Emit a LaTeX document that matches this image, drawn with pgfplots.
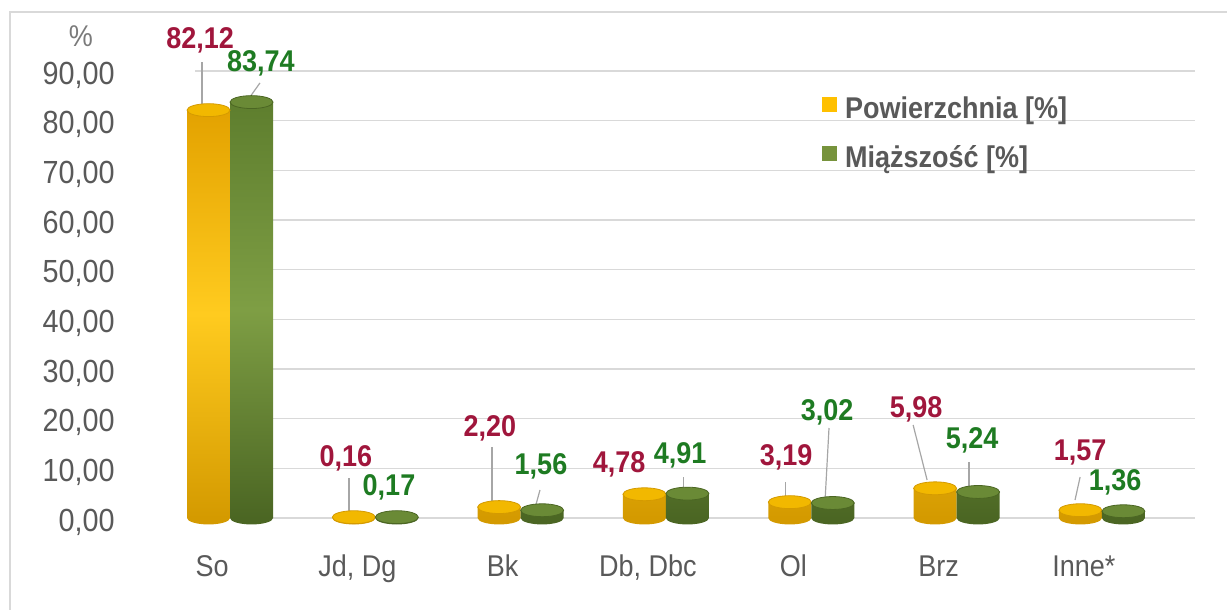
\documentclass[border=0pt]{standalone}
\usepackage{fontspec}
\setmainfont{Liberation Sans}[FakeStretch=0.9]
\usepackage{pgfplots}
\usepackage{pgfplotstable}
\pgfplotsset{compat=1.18}

\definecolor{tickgray}{HTML}{595959}
\definecolor{gridgray}{HTML}{D9D9D9}
\definecolor{leadgray}{HTML}{A6A6A6}
\definecolor{lblred}{HTML}{A0163C}
\definecolor{lblgreen}{HTML}{1E7B22}
\definecolor{yl}{HTML}{E3A200}
\definecolor{ym}{HTML}{FFCB1F}
\definecolor{yr}{HTML}{D49A00}
\definecolor{ytop}{HTML}{F2B800}
\definecolor{gl}{HTML}{5E7E2E}
\definecolor{gm}{HTML}{7E9E44}
\definecolor{gr}{HTML}{4B6623}
\definecolor{gtop}{HTML}{6A8A36}
\definecolor{legy}{HTML}{FFC000}
\definecolor{legg}{HTML}{77933C}

\tikzset{
  lab/.style={font=\bfseries\fontsize{15bp}{18bp}\selectfont, inner sep=0pt},
  leader/.style={draw=leadgray, line width=0.6bp},
}

\pgfdeclareplotmark{halfell}{%
  \pgfpathmoveto{\pgfpoint{-\pgfplotmarksize}{0pt}}%
  \pgfpatharc{180}{360}{\pgfplotmarksize and 0.3\pgfplotmarksize}%
  \pgfpathclose
  \pgfusepathqfill
}

\newcommand\legsquare[1]{%
  \pgfpathrectangle{\pgfpoint{0bp}{0bp}}{\pgfpoint{11.5bp}{14bp}}\pgfusepath{use as bounding box}%
  \pgfsetfillcolor{#1}%
  \pgfpathrectangle{\pgfpoint{0bp}{-0.75bp}}{\pgfpoint{7.5bp}{7.5bp}}\pgfusepath{fill}%
}

\pgfplotstableread{
cat pow mia
So 82.12 83.74
JdDg 0.16 0.17
Bk 2.20 1.56
DbDbc 4.78 4.91
Ol 3.19 3.02
Brz 5.98 5.24
Inne 1.57 1.36
}\data

\begin{document}
\begin{tikzpicture}[x=0.5bp,y=0.5bp]
\useasboundingbox (0,0) rectangle (1227,610);
\draw[gridgray, line width=1bp] (10,-5) -- (10,598) -- (1235,598);
\node[font=\fontsize{15bp}{18bp}\selectfont, text=tickgray!80] at (81,574) {\%};
\begin{axis}[
  at={(97.5bp,46bp)}, anchor=south west, scale only axis,
  width=500bp, height=223.5bp,
  xmin=-0.241, xmax=6.641, ymin=0, ymax=90,
  clip=false,
  axis line style={draw=none}, tick style={draw=none}, major tick length=0pt,
  ytick={0,10,...,90}, ymajorgrids, grid style={gridgray, line width=0.75bp},
  yticklabel style={font=\fontsize{16bp}{19bp}\selectfont, text=tickgray, inner sep=0pt, anchor=east, xshift=-40bp, yshift=-2bp,
    /pgf/number format/.cd, fixed, fixed zerofill, precision=2, use comma, assume math mode=true},
  xtick={0,...,6},
  xticklabels={So, {Jd, Dg}, Bk, {Db, Dbc}, Ol, Brz, Inne*},
  xticklabel style={font=\fontsize{15bp}{18bp}\selectfont, text=tickgray, anchor=base, yshift=-29.5bp, xshift=-9bp},
  legend cell align=left,
  legend style={at={(0.627,0.975)}, anchor=north west, draw=none, fill=none, inner sep=0pt, outer sep=0pt,
    row sep=3.5bp, font=\bfseries\fontsize{15bp}{18bp}\selectfont, text=tickgray,
    nodes={inner sep=0pt, text height=11bp, text depth=3bp}},
]
% bottom half-ellipses
\addplot[forget plot, only marks, mark=halfell, mark size=10.75bp, mark options={fill=yr, draw=none}]
  table[x expr=\coordindex-0.148, y expr=0] {\data};
\addplot[forget plot, only marks, mark=halfell, mark size=10.75bp, mark options={fill=gr, draw=none}]
  table[x expr=\coordindex+0.148, y expr=0] {\data};
% bars
\addplot[ybar, bar width=21.5bp, bar shift=-10.75bp, draw=none, top color=yl, bottom color=yr, middle color=ym,
  legend image code/.code={\legsquare{legy}}]
  table[x expr=\coordindex, y=pow] {\data};
\addlegendentry{Powierzchnia [\%]}
\addplot[ybar, bar width=21.5bp, bar shift=10.75bp, draw=none, top color=gl, bottom color=gr, middle color=gm,
  legend image code/.code={\legsquare{legg}}]
  table[x expr=\coordindex, y=mia] {\data};
\addlegendentry{Miąższość [\%]}
% top ellipses
\addplot[forget plot, only marks, mark=*, mark size=10.75bp, mark options={yscale=0.3, fill=ytop, draw=yr, line width=0.4bp}]
  table[x expr=\coordindex-0.148, y=pow] {\data};
\addplot[forget plot, only marks, mark=*, mark size=10.75bp, mark options={yscale=0.3, fill=gtop, draw=gr, line width=0.4bp}]
  table[x expr=\coordindex+0.148, y=mia] {\data};
% leader lines
\draw[leader] (axis cs:-0.193,91.8) -- (axis cs:-0.193,83.1);
\draw[leader] (axis cs:0.206,87.6) -- (axis cs:0.138,84.8);
\draw[leader] (axis cs:0.819,8.05) -- (axis cs:0.819,0.4);
\draw[leader] (axis cs:1.803,14.3) -- (axis cs:1.803,3.2);
\draw[leader] (axis cs:2.133,5.64) -- (axis cs:2.099,2.01);
\draw[leader] (axis cs:3.118,8.25) -- (axis cs:3.118,5.23);
\draw[leader] (axis cs:3.820,7.25) -- (axis cs:3.820,4.23);
\draw[leader] (axis cs:4.122,18.12) -- (axis cs:4.095,3.62);
\draw[leader] (axis cs:4.701,18.72) -- (axis cs:4.797,7.65);
\draw[leader] (axis cs:5.086,11.27) -- (axis cs:5.086,5.64);
\draw[leader] (axis cs:5.850,8.25) -- (axis cs:5.815,3.62);
% value labels
\node[lab, text=lblred]   at (axis cs:-0.206,96.2) {82,12};
\node[lab, text=lblgreen] at (axis cs:0.213,91.6) {83,74};
\node[lab, text=lblred]   at (axis cs:0.798,12.08) {0,16};
\node[lab, text=lblgreen] at (axis cs:1.094,6.24) {0,17};
\node[lab, text=lblred]   at (axis cs:1.789,18.12) {2,20};
\node[lab, text=lblgreen] at (axis cs:2.140,10.47) {1,56};
\node[lab, text=lblred]   at (axis cs:2.677,10.87) {4,78};
\node[lab, text=lblgreen] at (axis cs:3.097,12.68) {4,91};
\node[lab, text=lblred]   at (axis cs:3.827,12.28) {3,19};
\node[lab, text=lblgreen] at (axis cs:4.109,21.34) {3,02};
\node[lab, text=lblred]   at (axis cs:4.721,21.94) {5,98};
\node[lab, text=lblgreen] at (axis cs:5.107,15.70) {5,24};
\node[lab, text=lblred]   at (axis cs:5.850,13.09) {1,57};
\node[lab, text=lblgreen] at (axis cs:6.091,7.25) {1,36};
\end{axis}
\end{tikzpicture}
\end{document}
